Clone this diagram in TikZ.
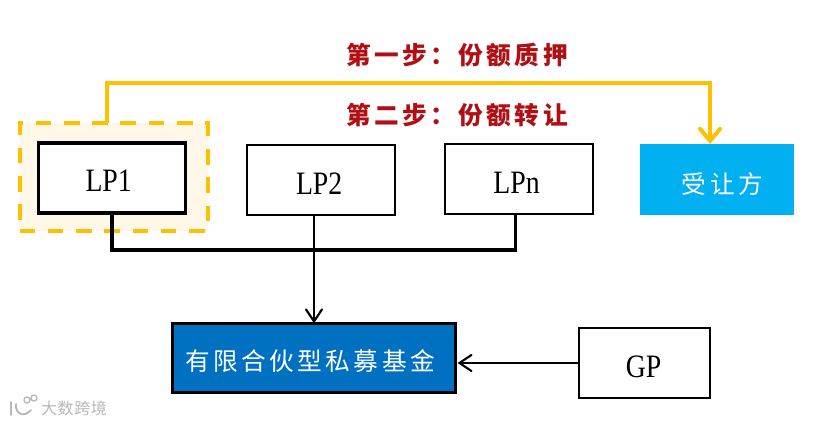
\documentclass[tikz,border=0pt]{standalone}
\usepackage{fontspec}
\setmainfont{Liberation Serif}
\newfontfamily\boxfont[FakeStretch=0.85]{Liberation Serif}
\newfontfamily\cjkfont[LetterSpace=14]{Noto Sans CJK SC}
\newfontfamily\markfont[LetterSpace=4]{Noto Sans CJK SC}
\definecolor{StepRed}{RGB}{176, 16, 20}
\definecolor{PledgeGold}{RGB}{255, 192, 0}
\definecolor{HoldFill}{RGB}{255, 248, 232}
\definecolor{BuyerBlue}{RGB}{0, 176, 240}
\definecolor{FundBlue}{RGB}{0, 112, 192}
\usetikzlibrary{arrows.meta, positioning, calc}
\newcommand{\nudge}[3]{\raisebox{#2}[\height][\depth]{\hspace{#1}#3}}

\begin{document}
\begin{tikzpicture}[x=0.75pt, y=-0.75pt,
        box/.style={draw, rectangle, inner sep=0pt, outer sep=0pt, line width=1.5pt, minimum height=52.5pt, align=center, font=\fontsize{24.5}{26}\selectfont\boxfont},
        heavybox/.style={box, line width=2.3pt},
        steptext/.style={inner sep=0pt, text=StepRed, font=\fontsize{18.5}{22}\selectfont\cjkfont\bfseries},
        whitetext/.style={text=white, font=\fontsize{18.5}{22}\selectfont\cjkfont},
        arrow/.style={-{Straight Barb[length=9pt, width=12pt, line cap=round]}, line width=1.6pt},
        busline/.style={line width=2.3pt},
        goldarrow/.style={-{Straight Barb[length=9pt, width=15pt, line cap=round]}, line width=3pt, PledgeGold}]

        \useasboundingbox (0,0) rectangle (813,424);

        % Pledged holder
        \node[draw=PledgeGold, fill=HoldFill, dash pattern=on 11.7pt off 9.5pt, line width=3pt, inner sep=0pt, outer sep=0pt, minimum width=141pt, minimum height=81pt] (hold) at (113.5,177) {};

        % Partners
        \node[heavybox, fill=white, minimum width=110.25pt] (lp1) at (112,178) {\nudge{-5pt}{-2.2pt}{LP1}};
        \node[box, minimum width=111pt] (lp2) at (320.5,180) {\nudge{-2pt}{-2.4pt}{LP2}};
        \node[box, minimum width=111pt] (lpn) at (518.5,179) {\nudge{-3pt}{-3pt}{LPn}};

        % Transferee
        \node[rectangle, fill=BuyerBlue, minimum width=115.5pt, minimum height=53.25pt, inner sep=0pt, outer sep=0pt, whitetext] (buyer) at (717,179.5) {\nudge{8pt}{-3.7pt}{受让方}};

        % Fund and GP
        \node[heavybox, fill=FundBlue, minimum width=212.25pt, minimum height=52pt, whitetext] (fund) at (314,358) {\nudge{-6pt}{-2.6pt}{有限合伙型私募基金}};
        \node[box, minimum width=98pt] (gp) at (644.5,363) {\nudge{-1.5pt}{-3.2pt}{GP}};

        % Step labels
        \node[steptext] (step1) at (457,55) {第一步：份额质押};
        \node[steptext] (step2) at (457,115) {第二步：份额转让};

        % Arrows
        \coordinate (busjoin) at (315,250);
        \draw[busline] (lp1.south) |- (busjoin) -| ([xshift=-2.6pt]lpn.south);
        \draw[arrow] (lp2.south -| fund.north) -- (fund.north);
        \draw[arrow] (gp.west) -- ([xshift=1.5pt]gp.west -| fund.east);
        \draw[goldarrow] ([xshift=-4.9pt]hold.north) |- (step1.south |- 0,83) -| ([xshift=-5.2pt]buyer.north);

        % Watermark
        \node[text=black!28, inner sep=0pt, font=\fontsize{12}{14}\selectfont\markfont] (mark) at (74,408) {大数跨境};
        \draw[black!28, line width=1.4pt, line cap=round] (11,402) -- (11,415) (16,404) .. controls (15,414) and (24,418) .. (31,410);
        \draw[black!28, line width=1pt] (27,400) circle (3) (34,398) circle (3);

    \end{tikzpicture}
\end{document}
